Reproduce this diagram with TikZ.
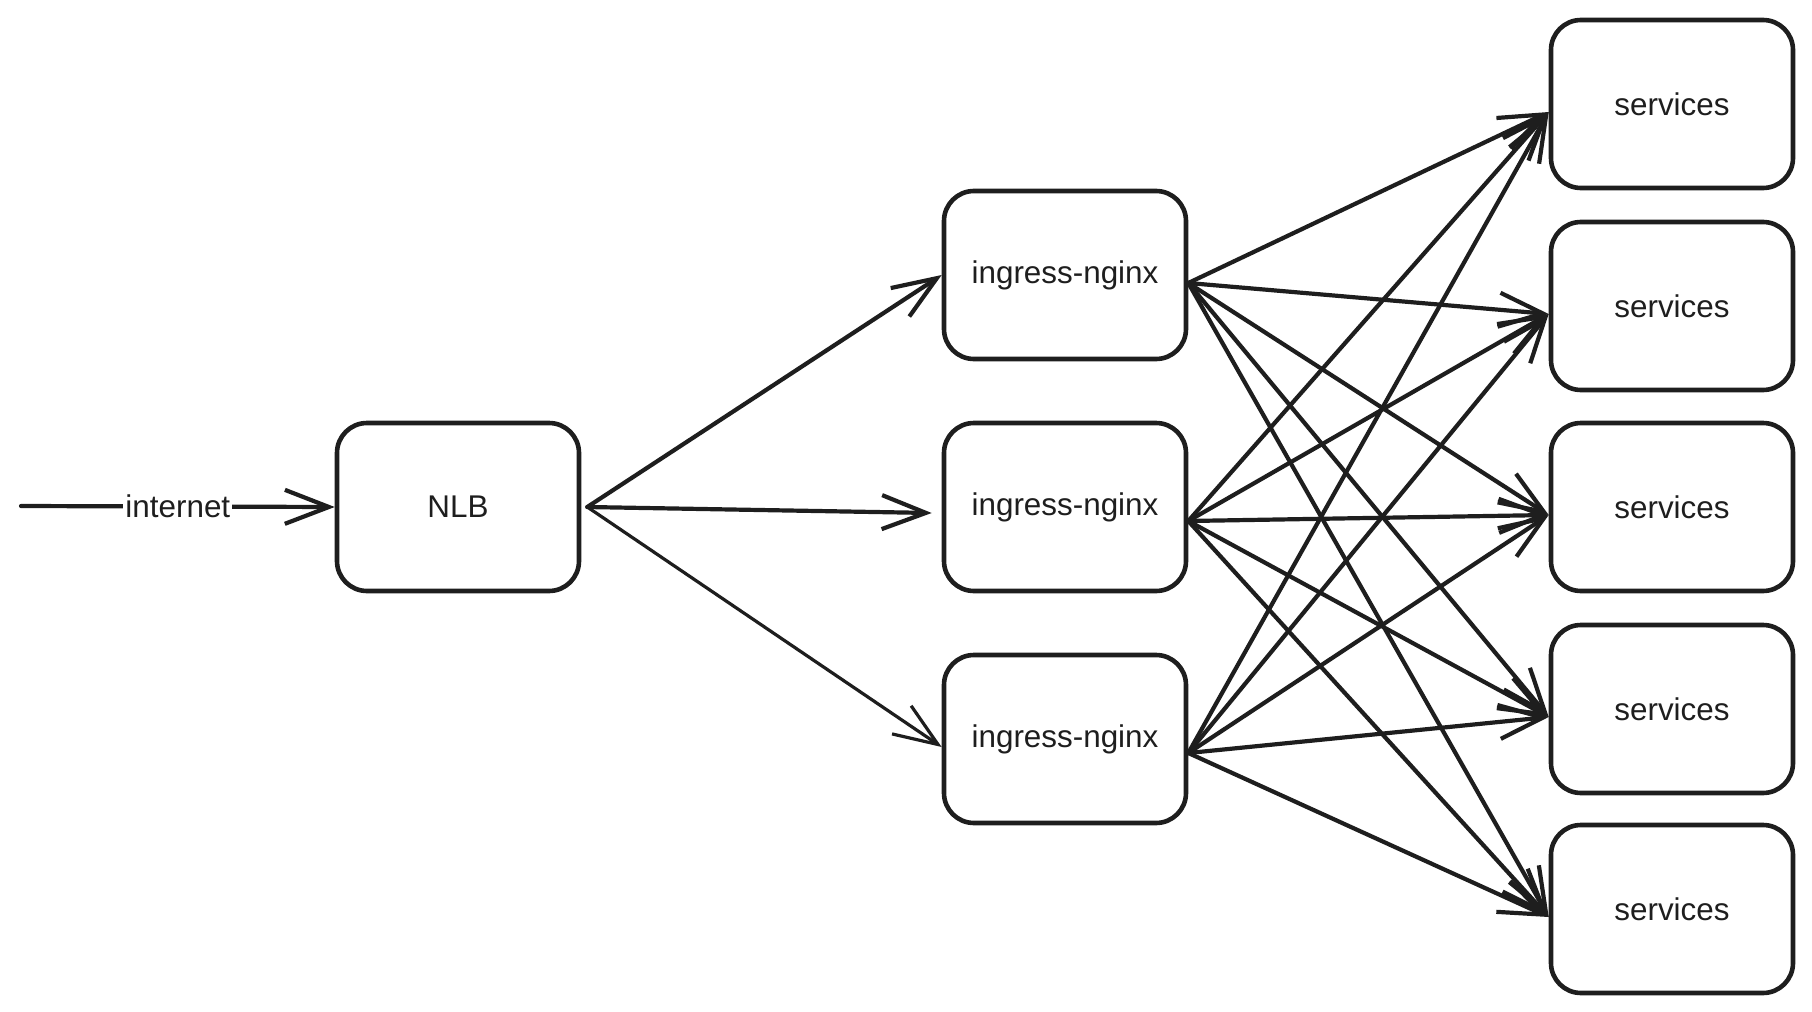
\documentclass[tikz,border=0pt]{standalone}
\usepackage{fontspec}
\setmainfont{Liberation Sans}
\usetikzlibrary{arrows.meta}
\definecolor{ink}{HTML}{1E1E1E}
\begin{document}
\begin{tikzpicture}[x=0.5pt,y=-0.5pt,
  box/.style={draw=ink, line width=2.3pt, rounded corners=15pt, minimum width=121pt, minimum height=84pt,
    inner sep=0pt, font=\fontsize{15.7}{18}\selectfont, text=ink},
  conn/.style={draw=ink, line width=2.1pt, line cap=round, -{Straight Barb[length=22pt,width=17pt]}},
  thin/.style={line width=1.6pt}]
\useasboundingbox (0,0) rectangle (1812,1012);
\node[box] (nlb) at (458,507) {NLB};
\node[box] (i1) at (1065,275) {ingress-nginx};
\node[box] (i2) at (1065,507) {ingress-nginx};
\node[box] (i3) at (1065,739) {ingress-nginx};
\node[box] (s1) at (1672,104) {services};
\node[box] (s2) at (1672,306) {services};
\node[box] (s3) at (1672,507) {services};
\node[box] (s4) at (1672,709) {services};
\node[box] (s5) at (1672,909) {services};
\coordinate (src) at (21,506);
\draw[conn] (src) -- node[fill=white, inner sep=1pt, text=ink, font=\fontsize{15.7}{18}\selectfont] {internet} (nlb.west);
\draw[conn] ([xshift=3pt]nlb.east) -- (i1.west);
\draw[conn] ([xshift=3pt]nlb.east) -- ([xshift=-5pt,yshift=-3pt]i2.west);
\draw[conn,thin] ([xshift=3pt]nlb.east) -- ([yshift=-4pt]i3.west);
\foreach \i/\sh in {i1/-4pt, i2/-7pt, i3/-7pt}{
  \foreach \s in {s1,s2,s3,s4,s5}{
    \draw[conn] ([yshift=\sh]\i.east) -- ([yshift=-4pt]\s.west);
  }
}
\end{tikzpicture}
\end{document}
